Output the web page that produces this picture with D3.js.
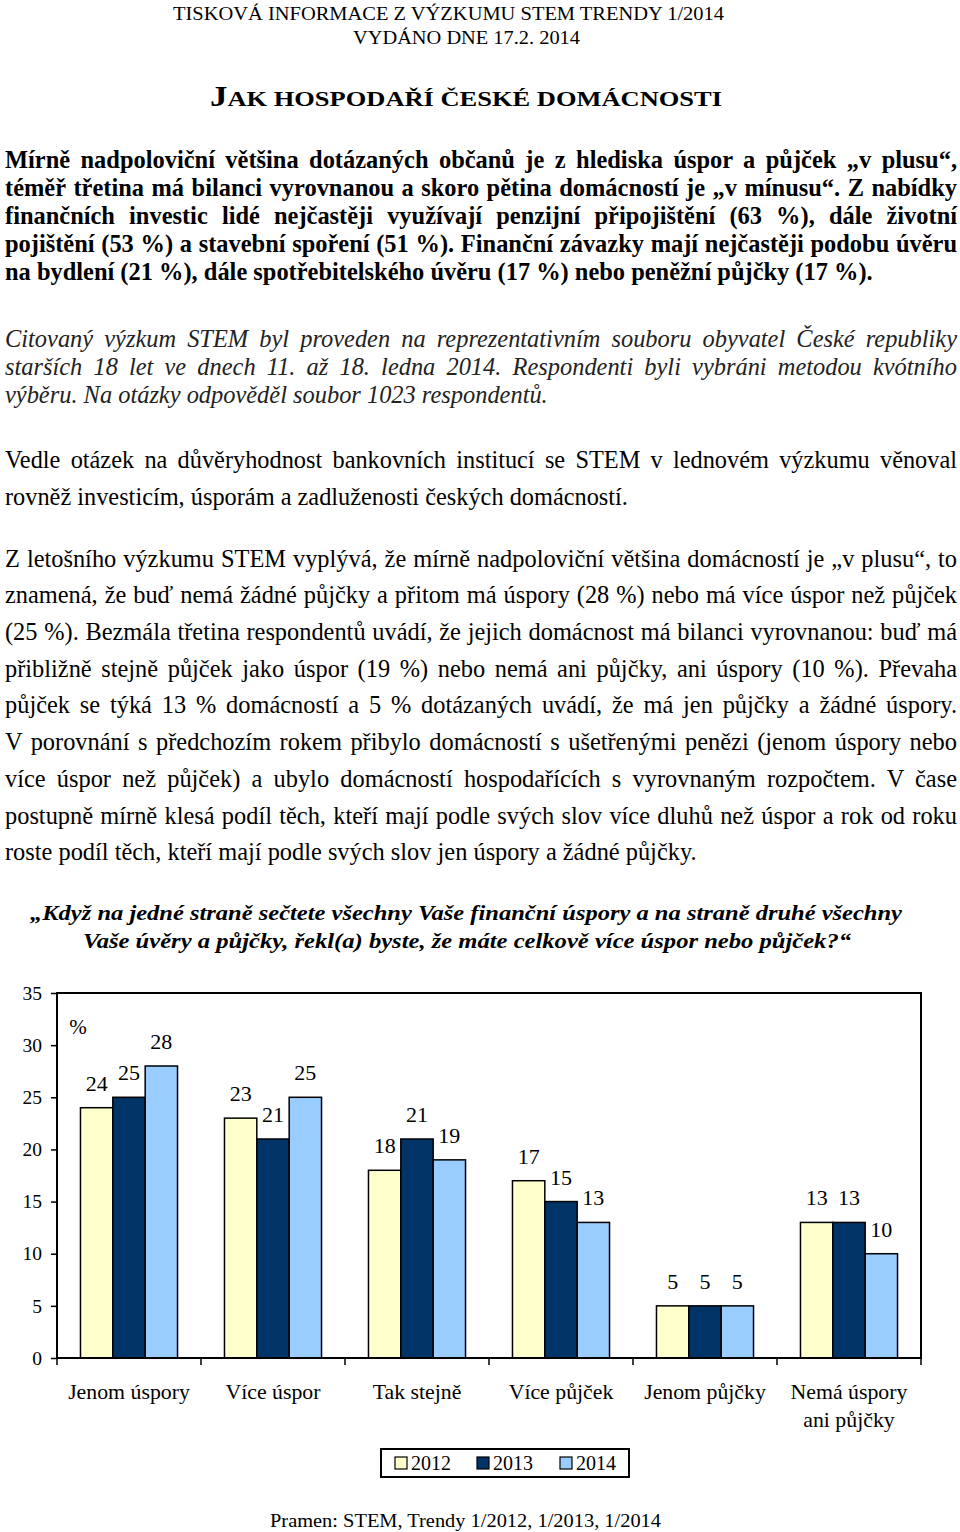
<!DOCTYPE html>
<html><head><meta charset="utf-8">
<script src="https://cdn.jsdelivr.net/npm/d3@7"></script>
<style>body{margin:0;background:#fff}svg{display:block}</style>
</head><body>
<script>
// ---------- data ----------
const categories = ["Jenom úspory","Více úspor","Tak stejně","Více půjček","Jenom půjčky","Nemá úspory ani půjčky"];
const categoryLines = [["Jenom úspory"],["Více úspor"],["Tak stejně"],["Více půjček"],["Jenom půjčky"],["Nemá úspory","ani půjčky"]];
const years = ["2012","2013","2014"];
const values2012 = [24,23,18,17,5,13];
const values2013 = [25,21,21,15,5,13];
const values2014 = [28,25,19,13,5,10];
const yTicks = [0,5,10,15,20,25,30,35];
const colors = ["#FFFFCC","#003366","#99CCFF"];

const headerLines = ["TISKOVÁ INFORMACE Z VÝZKUMU STEM TRENDY 1/2014","VYDÁNO DNE 17.2. 2014"];
const boldPara = [
 "Mírně nadpoloviční většina dotázaných občanů je z hlediska úspor a půjček „v plusu“,",
 "téměř třetina má bilanci vyrovnanou a skoro pětina domácností je „v mínusu“. Z nabídky",
 "finančních investic lidé nejčastěji využívají penzijní připojištění (63 %), dále životní",
 "pojištění (53 %) a stavební spoření (51 %). Finanční závazky mají nejčastěji podobu úvěru",
 "na bydlení (21 %), dále spotřebitelského úvěru (17 %) nebo peněžní půjčky (17 %)."];
const italicPara = [
 "Citovaný výzkum STEM byl proveden na reprezentativním souboru obyvatel České republiky",
 "starších 18 let ve dnech 11. až 18. ledna 2014. Respondenti byli vybráni metodou kvótního",
 "výběru. Na otázky odpověděl soubor 1023 respondentů."];
const para2 = [
 "Vedle otázek na důvěryhodnost bankovních institucí se STEM v lednovém výzkumu věnoval",
 "rovněž investicím, úsporám a zadluženosti českých domácností."];
const para3 = [
 "Z letošního výzkumu STEM vyplývá, že mírně nadpoloviční většina domácností je „v plusu“, to",
 "znamená, že buď nemá žádné půjčky a přitom má úspory (28 %) nebo má více úspor než půjček",
 "(25 %). Bezmála třetina respondentů uvádí, že jejich domácnost má bilanci vyrovnanou: buď má",
 "přibližně stejně půjček jako úspor (19 %) nebo nemá ani půjčky, ani úspory (10 %). Převaha",
 "půjček se týká 13 % domácností a 5 % dotázaných uvádí, že má jen půjčky a žádné úspory.",
 "V porovnání s předchozím rokem přibylo domácností s ušetřenými penězi (jenom úspory nebo",
 "více úspor než půjček) a ubylo domácností hospodařících s vyrovnaným rozpočtem. V čase",
 "postupně mírně klesá podíl těch, kteří mají podle svých slov více dluhů než úspor a rok od roku",
 "roste podíl těch, kteří mají podle svých slov jen úspory a žádné půjčky."];
const questionLines = [
 "„Když na jedné straně sečtete všechny Vaše finanční úspory a na straně druhé všechny",
 "Vaše úvěry a půjčky, řekl(a) byste, že máte celkově více úspor nebo půjček?“"];
const sourceText = "Pramen: STEM, Trendy 1/2012, 1/2013, 1/2014";

// ---------- setup ----------
const FONT = "'Liberation Serif','Times New Roman',Times,serif";
const svg = d3.select("body").append("svg").attr("width",960).attr("height",1532)
  .style("font-family",FONT);
svg.append("rect").attr("width",960).attr("height",1532).attr("fill","#fff");

function fitLine(str, x0, x1, y, size, weight, style, fill){
  const t = svg.append("text").attr("x",x0).attr("y",y).attr("font-size",size)
    .attr("font-weight",weight).attr("font-style",style).attr("fill",fill||"#000").text(str);
  t.attr("textLength",x1-x0).attr("lengthAdjust","spacingAndGlyphs");
  return t;
}
// paragraph: justified lines; last line natural. font size calibrated from last line end
function paragraph(lines, baselines, x0, x1, lastEnd, baseSize, weight, style, fill){
  const probe = svg.append("text").attr("font-size",baseSize).attr("font-weight",weight)
    .attr("font-style",style).text(lines[lines.length-1]);
  const w = probe.node().getComputedTextLength();
  probe.remove();
  const size = baseSize*(lastEnd-x0)/w;
  lines.forEach((s,i)=>{
    const t = svg.append("text").attr("x",x0).attr("y",baselines[i]).attr("font-size",size)
      .attr("font-weight",weight).attr("font-style",style).attr("fill",fill||"#000").text(s);
    if(i < lines.length-1){
      const nw = t.node().getComputedTextLength();
      const spaces = (s.match(/ /g)||[]).length;
      t.style("word-spacing", ((x1-x0-nw)/spaces)+"px");
    }
  });
}

// header
fitLine(headerLines[0],173,724,20,18,"normal","normal");
fitLine(headerLines[1],353,580,44,18,"normal","normal");
// title (small caps)
const title = svg.append("text").attr("x",210).attr("y",106).attr("font-weight","bold")
  .attr("textLength",512).attr("lengthAdjust","spacingAndGlyphs");
title.append("tspan").attr("font-size",29).text("J");
title.append("tspan").attr("font-size",22).text("AK HOSPODAŘÍ ČESKÉ DOMÁCNOSTI");

paragraph(boldPara,[167.5,195.5,223.5,251.5,280],5,957,873,20,"bold","normal");
paragraph(italicPara,[347,375,403],5,957,548,20,"normal","italic","#222");
paragraph(para2,[468,505],5,957,628,20,"normal","normal");
paragraph(para3,[566.5,603,640,676.5,713,750,786.5,823.5,860],5,957,697,20,"normal","normal");

fitLine(questionLines[0],30,902,920,21,"bold","italic");
fitLine(questionLines[1],83,851,948,21,"bold","italic");

// ---------- chart ----------
const plot = {left:57,right:921,top:993,bottom:1358};
const y = d3.scaleLinear().domain([0,35]).range([plot.bottom,plot.top]);
const x0 = d3.scaleBand().domain(categories).range([plot.left,plot.right])
  .paddingInner(0.326).paddingOuter(0.163);
const x1 = d3.scaleBand().domain(years).range([0,x0.bandwidth()]);
const series = [values2012,values2013,values2014];

const chart = svg.append("g");
// y axis
const yAxis = chart.append("g").attr("transform",`translate(${plot.left},0)`)
  .call(d3.axisLeft(y).tickValues(yTicks).tickSize(6).tickPadding(9));
yAxis.select(".domain").remove();
yAxis.selectAll(".tick line").attr("stroke","#000").attr("stroke-width",1.5);
yAxis.selectAll(".tick text").attr("font-size",19.5).attr("font-family",FONT).attr("fill","#000");

// x ticks at category boundaries
const bounds = d3.range(categories.length+1).map(i=>plot.left + i*x0.step());
chart.selectAll("line.xt").data(bounds).join("line")
  .attr("x1",d=>d).attr("x2",d=>d).attr("y1",plot.bottom).attr("y2",plot.bottom+7)
  .attr("stroke","#000").attr("stroke-width",1.5);

// bars
categories.forEach((c,ci)=>{
  years.forEach((yr,si)=>{
    const v = series[si][ci];
    chart.append("rect")
      .attr("x",x0(c)+x1(yr)).attr("width",x1.bandwidth())
      .attr("y",y(v)).attr("height",y(0)-y(v))
      .attr("fill",colors[si]).attr("stroke","#000").attr("stroke-width",1.5);
    chart.append("text")
      .attr("x",x0(c)+x1(yr)+x1.bandwidth()/2).attr("y",y(v)-17)
      .attr("text-anchor","middle").attr("font-size",22).text(v);
  });
});

// plot frame
chart.append("rect").attr("x",plot.left).attr("y",plot.top)
  .attr("width",plot.right-plot.left).attr("height",plot.bottom-plot.top)
  .attr("fill","none").attr("stroke","#000").attr("stroke-width",2);

chart.append("text").attr("x",78).attr("y",1034).attr("text-anchor","middle")
  .attr("font-size",21).text("%");

// category labels
categories.forEach((c,ci)=>{
  categoryLines[ci].forEach((ln,li)=>{
    chart.append("text").attr("x",x0(c)+x0.bandwidth()/2).attr("y",1399+li*28)
      .attr("text-anchor","middle").attr("font-size",21.8).text(ln);
  });
});

// legend
const lg = svg.append("g");
lg.append("rect").attr("x",381).attr("y",1449).attr("width",248).attr("height",28)
  .attr("fill","#fff").attr("stroke","#000").attr("stroke-width",2);
const legX = [395,477,560];
years.forEach((yr,i)=>{
  lg.append("rect").attr("x",legX[i]).attr("y",1457).attr("width",12).attr("height",12)
    .attr("fill",colors[i]).attr("stroke","#000").attr("stroke-width",1.2);
  lg.append("text").attr("x",legX[i]+16).attr("y",1470).attr("font-size",20).text(yr);
});

fitLine(sourceText,270,661,1527,19,"normal","normal");
</script>
</body></html>
